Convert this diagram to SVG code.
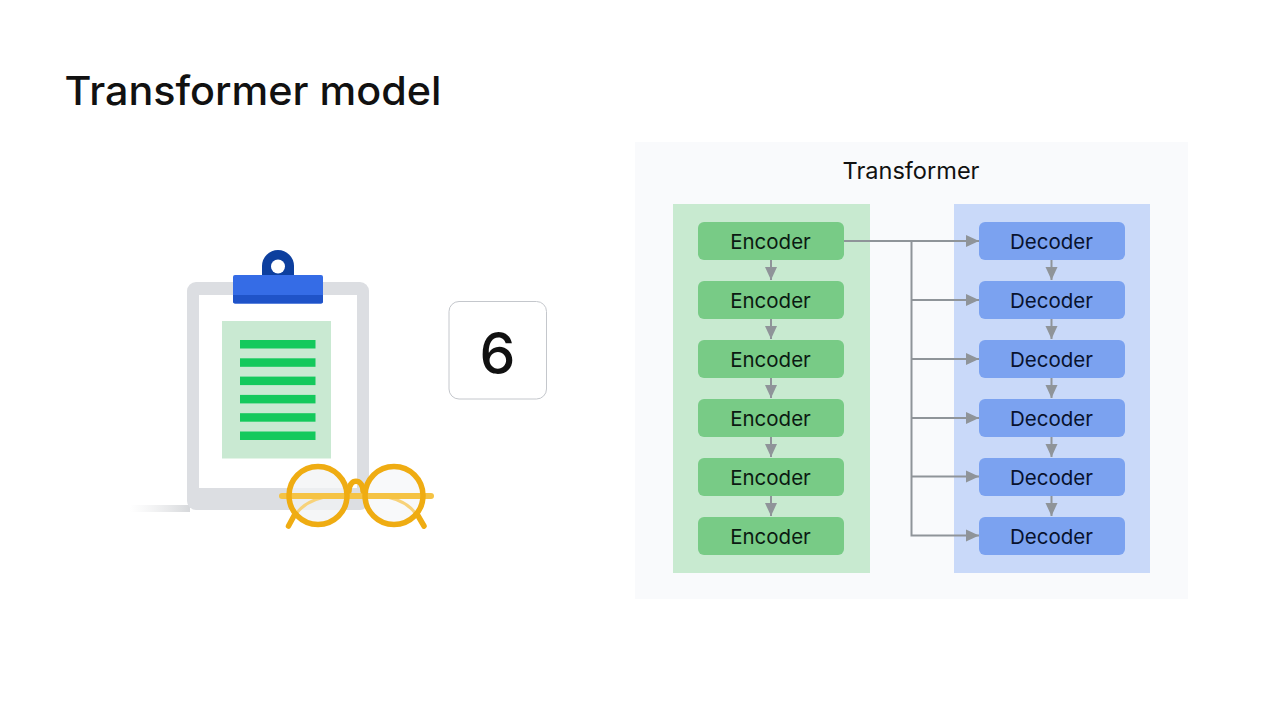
<svg xmlns="http://www.w3.org/2000/svg" width="1280" height="720" viewBox="0 0 1280 720">
<style>
text{font-family:"Inter","Roboto","Liberation Sans",sans-serif;fill:#111;text-anchor:middle}
.lbl{font-size:20.500px;fill:#0b1a12}
.dl{fill:#08122e}
.enc{fill:#78cb86}
.dec{fill:#7ba2f0}
.con{fill:none;stroke:#8f9499;stroke-width:2}
.bar{fill:#14c95c}
.gl{fill:none;stroke:#efac12;stroke-width:5.500;stroke-linecap:round}
</style>
<defs>
<marker id="a" markerUnits="userSpaceOnUse" markerWidth="13" markerHeight="14" refX="13" refY="7" orient="auto"><path d="M0 1L13 7L0 13Z" fill="#8f9499"/></marker>
<linearGradient id="sh" x1="0" x2="1" y1="0" y2="0"><stop offset="0" stop-color="#e4e5e7" stop-opacity="0"/><stop offset="1" stop-color="#d6d8db"/></linearGradient>
</defs>
<rect width="1280" height="720" fill="#fff"/>
<text id="title" x="253" y="105" font-size="40" font-weight="450" textLength="377" lengthAdjust="spacingAndGlyphs">Transformer model</text>
<g id="clipboard">
<rect x="130" y="505" width="60" height="7" fill="url(#sh)"/>
<rect x="187" y="282" width="182" height="228" rx="9" fill="#dcdee2"/>
<rect x="199" y="295" width="158" height="193" fill="#fff"/>
<rect x="222" y="321" width="109" height="137.500" fill="#c9e9d2"/>
<rect class="bar" x="240" y="340" width="75.500" height="8.500"/>
<rect class="bar" x="240" y="358.300" width="75.500" height="8.500"/>
<rect class="bar" x="240" y="376.600" width="75.500" height="8.500"/>
<rect class="bar" x="240" y="394.900" width="75.500" height="8.500"/>
<rect class="bar" x="240" y="413.200" width="75.500" height="8.500"/>
<rect class="bar" x="240" y="431.500" width="75.500" height="8.500"/>
<path d="M262 276V266a16 16 0 0 1 32 0V276Z" fill="#0d3f9e"/>
<circle cx="278" cy="266.500" r="7" fill="#fff"/>
<rect x="233" y="275" width="90" height="28.500" rx="2" fill="#356ce6"/>
<path d="M233 295H323V301.500a2 2 0 0 1-2 2H235a2 2 0 0 1-2-2Z" fill="#1f53c8"/>
</g>
<g id="glasses">
<circle cx="318" cy="495.500" r="29" fill="#f2f3f4" fill-opacity=".75"/>
<circle cx="394" cy="495.500" r="29" fill="#f6f7f8" fill-opacity=".75"/>
<path d="M296 514C304 503 318 497 334 496M416 514C408 503 394 497 378 496" fill="none" stroke="#f7d27a" stroke-width="3"/>
<path d="M282 496H431" fill="none" stroke="#f5c344" stroke-width="6" stroke-linecap="round"/>
<path class="gl" d="M295 514L288.500 526M417 514L424 526"/>
<circle class="gl" cx="318" cy="495.500" r="29"/>
<circle class="gl" cx="394" cy="495.500" r="29"/>
<path class="gl" d="M349 491C349 478 363 478 363 491"/>
</g>
<g id="count">
<rect x="449" y="301.500" width="97.500" height="97.500" rx="10" fill="#fff" stroke="#c4c7cc" stroke-width="1"/>
<text x="497.500" y="374" font-size="57" font-weight="500">6</text>
</g>
<g id="panel">
<rect x="635" y="142" width="553" height="457" fill="#f9fafc"/>
<text x="911" y="179" font-size="23" textLength="137" lengthAdjust="spacingAndGlyphs">Transformer</text>
<rect x="673" y="204" width="197" height="369" fill="#c8ead0"/>
<rect x="954" y="204" width="196" height="369" fill="#c9d9f9"/>
</g>
<g id="connectors" class="con">
<path d="M844 241H979" marker-end="url(#a)"/>
<path d="M911.500 241V535.500H979" marker-end="url(#a)"/>
<path d="M911.500 300H979" marker-end="url(#a)"/>
<path d="M911.500 359H979" marker-end="url(#a)"/>
<path d="M911.500 418H979" marker-end="url(#a)"/>
<path d="M911.500 476.500H979" marker-end="url(#a)"/>
<path d="M771 260V280" marker-end="url(#a)"/>
<path d="M771 319V339" marker-end="url(#a)"/>
<path d="M771 378V398" marker-end="url(#a)"/>
<path d="M771 437V457" marker-end="url(#a)"/>
<path d="M771 496V516" marker-end="url(#a)"/>
<path d="M1051.500 260V280" marker-end="url(#a)"/>
<path d="M1051.500 319V339" marker-end="url(#a)"/>
<path d="M1051.500 378V398" marker-end="url(#a)"/>
<path d="M1051.500 437V457" marker-end="url(#a)"/>
<path d="M1051.500 496V516" marker-end="url(#a)"/>
</g>
<g id="enc1"><rect class="enc" x="698" y="222" width="146" height="38" rx="6"/><text class="lbl" x="770.500" y="248.500">Encoder</text></g>
<g id="enc2"><rect class="enc" x="698" y="281" width="146" height="38" rx="6"/><text class="lbl" x="770.500" y="307.500">Encoder</text></g>
<g id="enc3"><rect class="enc" x="698" y="340" width="146" height="38" rx="6"/><text class="lbl" x="770.500" y="366.500">Encoder</text></g>
<g id="enc4"><rect class="enc" x="698" y="399" width="146" height="38" rx="6"/><text class="lbl" x="770.500" y="425.500">Encoder</text></g>
<g id="enc5"><rect class="enc" x="698" y="458" width="146" height="38" rx="6"/><text class="lbl" x="770.500" y="484.500">Encoder</text></g>
<g id="enc6"><rect class="enc" x="698" y="517" width="146" height="38" rx="6"/><text class="lbl" x="770.500" y="543.500">Encoder</text></g>
<g id="dec1"><rect class="dec" x="979" y="222" width="146" height="38" rx="6"/><text class="lbl dl" x="1051.500" y="248.500">Decoder</text></g>
<g id="dec2"><rect class="dec" x="979" y="281" width="146" height="38" rx="6"/><text class="lbl dl" x="1051.500" y="307.500">Decoder</text></g>
<g id="dec3"><rect class="dec" x="979" y="340" width="146" height="38" rx="6"/><text class="lbl dl" x="1051.500" y="366.500">Decoder</text></g>
<g id="dec4"><rect class="dec" x="979" y="399" width="146" height="38" rx="6"/><text class="lbl dl" x="1051.500" y="425.500">Decoder</text></g>
<g id="dec5"><rect class="dec" x="979" y="458" width="146" height="38" rx="6"/><text class="lbl dl" x="1051.500" y="484.500">Decoder</text></g>
<g id="dec6"><rect class="dec" x="979" y="517" width="146" height="38" rx="6"/><text class="lbl dl" x="1051.500" y="543.500">Decoder</text></g>
</svg>
